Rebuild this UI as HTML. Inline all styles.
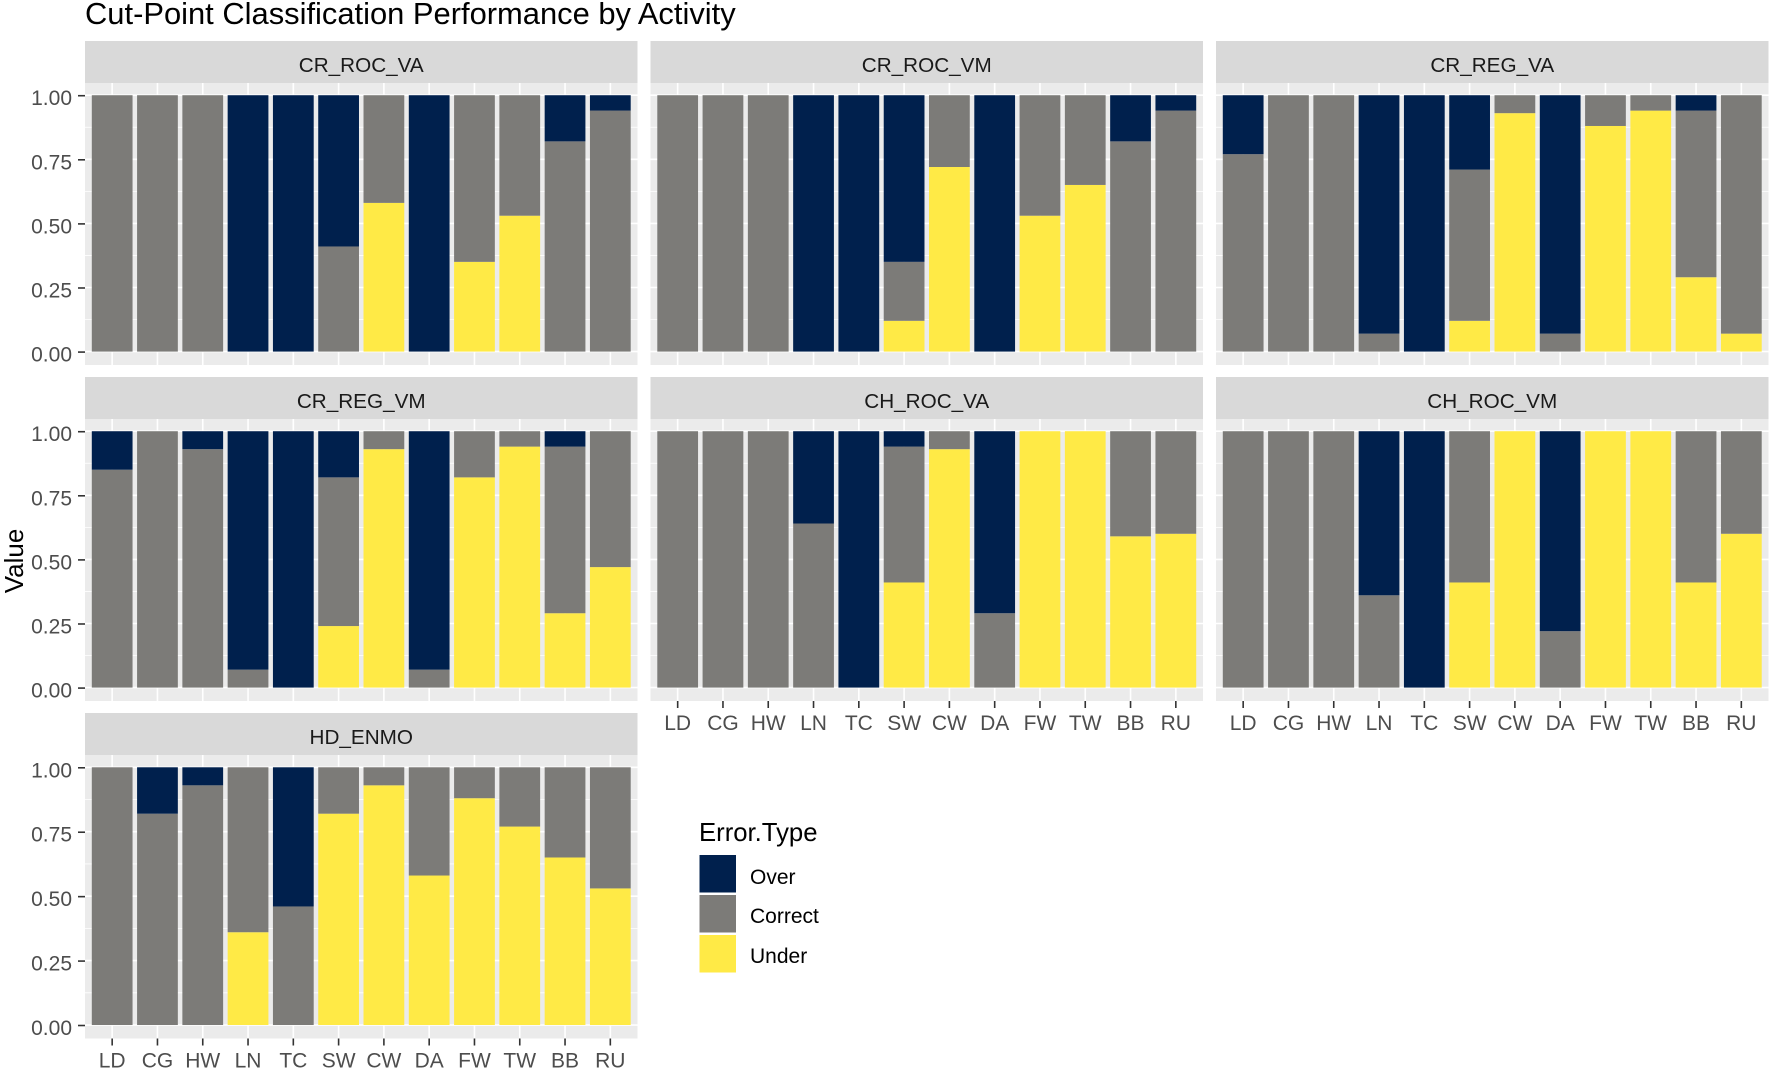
<!DOCTYPE html>
<html lang="en">
<head>
<meta charset="utf-8">
<title>Cut-Point Classification Performance by Activity</title>
<style>
html,body{margin:0;padding:0;background:#fff;}
svg{display:block;font-family:"Liberation Sans",sans-serif;}
</style>
</head>
<body>
<svg id="chart" xmlns="http://www.w3.org/2000/svg" width="1772" height="1072" viewBox="0 0 1772 1072">
  <rect x="0" y="0" width="1772" height="1072" fill="#fff"/>
  <text x="85" y="24" font-size="30.9" fill="#000">Cut-Point Classification Performance by Activity</text>
  <text transform="translate(23,561) rotate(-90)" text-anchor="middle" font-size="26" fill="#000">Value</text>
  <g id="panels"></g>
  <g>
    <text x="699" y="841" font-size="25.7" fill="#000">Error.Type</text>
    <rect x="699.5" y="855" width="36.5" height="37.5" fill="#00204d"/>
    <rect x="699.5" y="895" width="36.5" height="37.5" fill="#7c7b78"/>
    <rect x="699.5" y="935" width="36.5" height="37.5" fill="#ffea46"/>
    <text x="750" y="884" font-size="21" fill="#000">Over</text>
    <text x="750" y="923" font-size="21" fill="#000">Correct</text>
    <text x="750" y="963" font-size="21" fill="#000">Under</text>
  </g>
</svg>
<script>
const categories = ["LD","CG","HW","LN","TC","SW","CW","DA","FW","TW","BB","RU"];
const yTicks = [0, 0.25, 0.5, 0.75, 1];
const panelNames = ["CR_ROC_VA","CR_ROC_VM","CR_REG_VA","CR_REG_VM","CH_ROC_VA","CH_ROC_VM","HD_ENMO"];

const crRocVaOver    = [0,0,0,1,1,.59,0,1,0,0,.18,.06];
const crRocVaCorrect = [1,1,1,0,0,.41,.42,0,.65,.47,.82,.94];
const crRocVaUnder   = [0,0,0,0,0,0,.58,0,.35,.53,0,0];

const crRocVmOver    = [0,0,0,1,1,.65,0,1,0,0,.18,.06];
const crRocVmCorrect = [1,1,1,0,0,.23,.28,0,.47,.35,.82,.94];
const crRocVmUnder   = [0,0,0,0,0,.12,.72,0,.53,.65,0,0];

const crRegVaOver    = [.23,0,0,.93,1,.29,0,.93,0,0,.06,0];
const crRegVaCorrect = [.77,1,1,.07,0,.59,.07,.07,.12,.06,.65,.93];
const crRegVaUnder   = [0,0,0,0,0,.12,.93,0,.88,.94,.29,.07];

const crRegVmOver    = [.15,0,.07,.93,1,.18,0,.93,0,0,.06,0];
const crRegVmCorrect = [.85,1,.93,.07,0,.58,.07,.07,.18,.06,.65,.53];
const crRegVmUnder   = [0,0,0,0,0,.24,.93,0,.82,.94,.29,.47];

const chRocVaOver    = [0,0,0,.36,1,.06,0,.71,0,0,0,0];
const chRocVaCorrect = [1,1,1,.64,0,.53,.07,.29,0,0,.41,.40];
const chRocVaUnder   = [0,0,0,0,0,.41,.93,0,1,1,.59,.60];

const chRocVmOver    = [0,0,0,.64,1,0,0,.78,0,0,0,0];
const chRocVmCorrect = [1,1,1,.36,0,.59,0,.22,0,0,.59,.40];
const chRocVmUnder   = [0,0,0,0,0,.41,1,0,1,1,.41,.60];

const hdEnmoOver     = [0,.18,.07,0,.54,0,0,0,0,0,0,0];
const hdEnmoCorrect  = [1,.82,.93,.64,.46,.18,.07,.42,.12,.23,.35,.47];
const hdEnmoUnder    = [0,0,0,.36,0,.82,.93,.58,.88,.77,.65,.53];

const overSeries    = [crRocVaOver,crRocVmOver,crRegVaOver,crRegVmOver,chRocVaOver,chRocVmOver,hdEnmoOver];
const correctSeries = [crRocVaCorrect,crRocVmCorrect,crRegVaCorrect,crRegVmCorrect,chRocVaCorrect,chRocVmCorrect,hdEnmoCorrect];
const underSeries   = [crRocVaUnder,crRocVmUnder,crRegVaUnder,crRegVmUnder,chRocVaUnder,chRocVmUnder,hdEnmoUnder];

const NS = "http://www.w3.org/2000/svg";
const COLS = 3;
const PANEL_W = 552.5;
const COL_PITCH = 565.5;
const ROW_PITCH = 336;
const LEFT = 85;
const TOP = 41;
const STRIP_H = 42;
const PANEL_H = 282;
const COLOR_OVER = "#00204d";
const COLOR_CORRECT = "#7c7b78";
const COLOR_UNDER = "#ffea46";
const root = document.getElementById("panels");

function make(parent, tag, attrs) {
  const el = document.createElementNS(NS, tag);
  for (const k in attrs) el.setAttribute(k, attrs[k]);
  parent.appendChild(el);
  return el;
}
function slug(s) { return s.toLowerCase().replace(/_/g, "-"); }

panelNames.forEach(function (name, p) {
  const col = p % COLS;
  const row = Math.floor(p / COLS);
  const px = LEFT + col * COL_PITCH;
  const stripY = TOP + row * ROW_PITCH;
  const py = stripY + STRIP_H;
  const ph = PANEL_H + (row === 2 ? 1.5 : 0);
  const step = PANEL_W / (categories.length - 1 + 1.2);
  const xScale = function (i) { return px + (0.6 + i) * step; };
  const yScale = function (v) { return py - 0.6 + ph * (1 - (v + 0.05) / 1.1); };
  const hasXAxis = p + COLS >= panelNames.length;

  const g = make(root, "g", {});
  
  

  const strip = make(g, "rect", { x: px, y: stripY, width: PANEL_W, height: STRIP_H, fill: "#d9d9d9" });
  
  

  const stripText = make(g, "text", { x: px + PANEL_W / 2, y: stripY + 31, "text-anchor": "middle", "font-size": 20.7, fill: "#1a1a1a" });
  stripText.textContent = name;
  
  

  const bg = make(g, "rect", { x: px, y: py, width: PANEL_W, height: ph, fill: "#ebebeb" });
  
  

  yTicks.forEach(function (t, k) {
    const grid = make(g, "line", { x1: px, x2: px + PANEL_W, y1: yScale(t), y2: yScale(t), stroke: "#fff", "stroke-width": 1.6 });
    
    
    if (k < yTicks.length - 1) {
      const mid = (t + yTicks[k + 1]) / 2;
      const minor = make(g, "line", { x1: px, x2: px + PANEL_W, y1: yScale(mid), y2: yScale(mid), stroke: "#fff", "stroke-width": 0.8 });
      
      
    }
  });

  categories.forEach(function (c, i) {
    const cx = xScale(i);
    const grid = make(g, "line", { x1: cx, x2: cx, y1: py, y2: py + ph, stroke: "#fff", "stroke-width": 1.6 });
    
    
  });

  categories.forEach(function (c, i) {
    const bw = step * 0.9;
    const bx = xScale(i) - bw / 2;
    const u = underSeries[p][i];
    const m = correctSeries[p][i];
    const o = overSeries[p][i];
    const segments = [
      { label: "under", from: 0, to: u, fill: COLOR_UNDER },
      { label: "correct", from: u, to: u + m, fill: COLOR_CORRECT },
      { label: "over", from: u + m, to: u + m + o, fill: COLOR_OVER }
    ];
    segments.forEach(function (s) {
      if (s.to - s.from <= 0) return;
      const top = yScale(s.to);
      const bar = make(g, "rect", { x: bx, y: top, width: bw, height: yScale(s.from) - top, fill: s.fill });
      
      
    });
  });

  if (col === 0) {
    yTicks.forEach(function (t) {
      const y = yScale(t);
      const tick = make(g, "line", { x1: px - 7, x2: px, y1: y + 0.5, y2: y + 0.5, stroke: "#333", "stroke-width": 1.6 });
      
      
      const label = make(g, "text", { x: px - 13, y: y + 10, "text-anchor": "end", "font-size": 21, fill: "#4d4d4d" });
      label.textContent = t.toFixed(2);
      
      
    });
  }

  if (hasXAxis) {
    categories.forEach(function (c, i) {
      const cx = xScale(i);
      const tick = make(g, "line", { x1: cx, x2: cx, y1: py + ph, y2: py + ph + 7, stroke: "#333", "stroke-width": 1.6 });
      
      
      const label = make(g, "text", { x: cx, y: py + ph + 29, "text-anchor": "middle", "font-size": 21, fill: "#4d4d4d" });
      label.textContent = c;
      
      
    });
  }
});
</script>
</body>
</html>
